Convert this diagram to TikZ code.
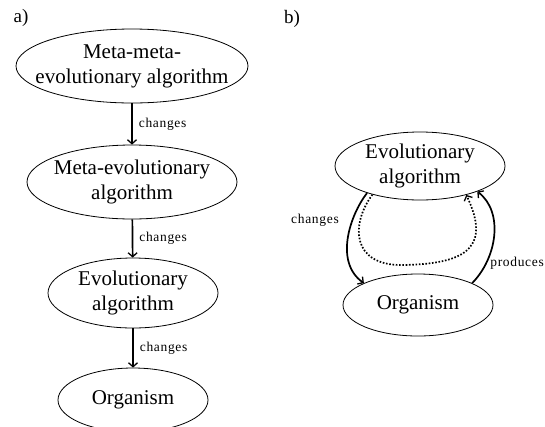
\documentclass[tikz,border=0pt]{standalone}
\usepackage{fontspec}
\setmainfont{Liberation Serif}
\usetikzlibrary{shapes.geometric,arrows.meta}
\newfontfamily\lblspaced[LetterSpace=5]{Liberation Serif}
\tikzset{
  ell/.style={ellipse, draw, line width=0.8pt, inner xsep=-150pt, inner ysep=-60pt, align=center,
    font=\fontsize{21}{25}\selectfont},
  arr/.style={line width=1.7pt, -{Straight Barb[length=4pt,width=9pt,line width=1.3pt]}},
  dotarr/.style={line width=1.7pt, dash pattern=on 1.6pt off 1.7pt,
    -{Straight Barb[length=4pt,width=9pt,line width=1.3pt]}},
  lbl/.style={font=\lblspaced\fontsize{13.5}{15}\selectfont, inner sep=0pt},
  panel/.style={font=\fontsize{19}{21}\selectfont, inner sep=0pt}
}
\begin{document}
\begin{tikzpicture}[x=1pt,y=-1pt]
\useasboundingbox (0,0) rectangle (545,426);
\node[panel] (pa) at (21,18) {a)};
\node[panel] (pb) at (292,19) {b)};
% left panel
\node[ell, minimum width=232pt, minimum height=74pt] (mm) at (132,66) {Meta-meta-\\evolutionary algorithm};
\node[ell, minimum width=210pt, minimum height=74pt] (me) at (132,182) {Meta-evolutionary\\algorithm};
\node[ell, minimum width=170pt, minimum height=70pt] (ea) at (133,293) {Evolutionary\\algorithm};
\node[ell, minimum width=150pt, minimum height=64pt] (or) at (133,400) {Organism};
\draw[arr] (mm) -- node[lbl, right=6pt] {changes} (me);
\draw[arr] (me) -- node[lbl, right=6pt] {changes} (ea);
\draw[arr] (ea) -- node[lbl, right=6pt] {changes} (or);
% right panel
\node[ell, minimum width=170pt, minimum height=68pt] (rea) at (420,166) {Evolutionary\\algorithm};
\node[ell, minimum width=150pt, minimum height=62pt] (ror) at (418,305) {Organism};
\draw[arr] (rea.207) .. controls (350,215) and (334,262) .. (ror.158);
\draw[arr] (ror.22) .. controls (497,258) and (504,212) .. (rea.336);
\draw[dotarr] (rea.211) .. controls (350,225) and (352,266) .. (403,265)
  .. controls (470,264) and (490,245) .. (rea.328);
\node[lbl, anchor=center] (lc) at (315,220) {changes};
\node[lbl, anchor=east] (lp) at (544,263) {produces};
\end{tikzpicture}
\end{document}
